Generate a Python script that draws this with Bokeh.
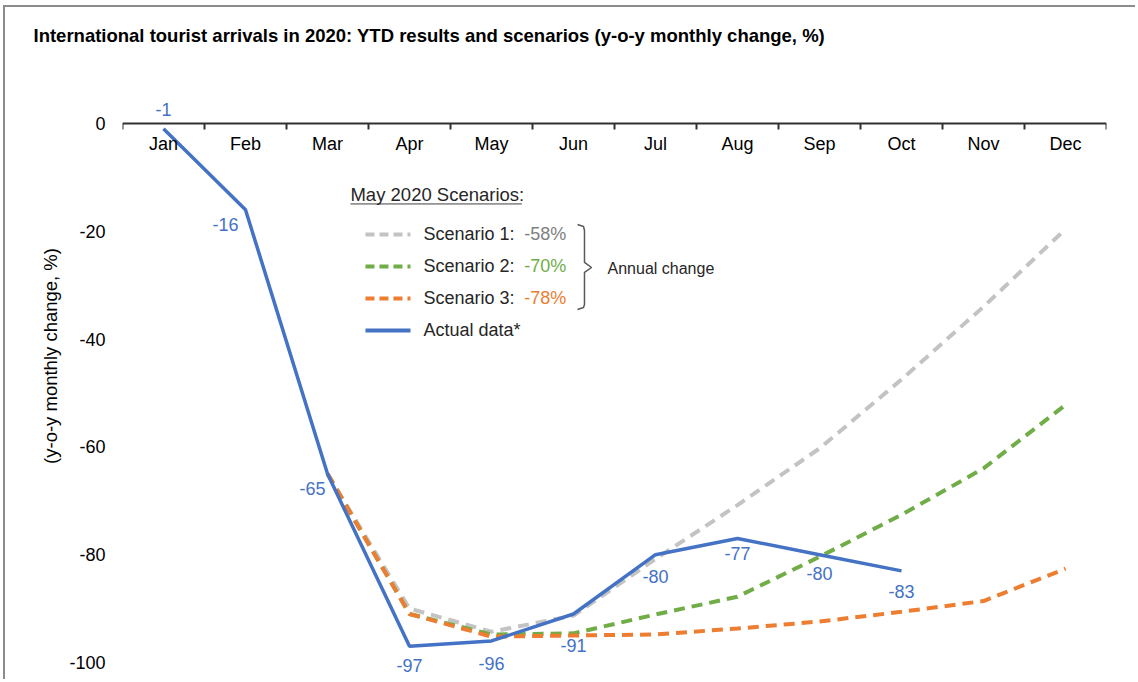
from bokeh.plotting import figure
from bokeh.models import (Range1d, FixedTicker, LinearAxis, Label, ColumnDataSource,
                          CustomJSTickFormatter)
from bokeh.core.properties import value
from bokeh.embed import file_html
from bokeh.resources import INLINE

# ---------------- data ----------------
months = ["Jan", "Feb", "Mar", "Apr", "May", "Jun", "Jul", "Aug", "Sep", "Oct", "Nov", "Dec"]
actual_months = months[:10]
actual = [-1, -16, -65, -97, -96, -91, -80, -77, -80, -83]
scen_months = months[2:]
scenario1 = [-65, -90, -94.3, -91.3, -80.8, -70.8, -60.3, -47.5, -34, -19.6]
scenario2 = [-65, -91, -94.8, -94.6, -91.1, -87.8, -80.4, -72.6, -64, -52.2]
scenario3 = [-65, -91, -95.2, -95, -94.8, -93.7, -92.4, -90.6, -88.6, -82.6]
scenario_names = ["Scenario 1:", "Scenario 2:", "Scenario 3:"]
annual_change = ["-58%", "-70%", "-78%"]
y_ticks = [0, -20, -40, -60, -80, -100]

# ---------------- styles ----------------
FONT = "Liberation Sans"
BLUE = "#4472c4"
GRAY = "#c3c3c3"
GREEN = "#70ad47"
ORANGE = "#ed7d31"
PCT_COLORS = ["#808080", GREEN, ORANGE]
LINE_COLORS = [GRAY, GREEN, ORANGE]
TXT = "#262626"
DASH = "11 7"

# label offsets (pixels) for the actual-data labels
lab_dx = [0, -20, -15, 0, 0, 0, 0, 0, 0, 0]
lab_dy = [-19, 15, 15, 19, 23, 32, 22, 15, 19, 21]


def pos(cats):
    # category -> centre of its slot on the linear month scale
    return [months.index(c) + 0.5 for c in cats]


p = figure(width=1132, height=674,
           x_range=Range1d(0, len(months)),
           y_range=Range1d(-103.53, 17.25),
           output_backend="svg", toolbar_location=None,
           x_axis_location=None, y_axis_location="left")
p.styles = {"margin-left": "3px", "margin-top": "5px",
            "border-top": "2px solid #8c8c8c", "border-left": "2px solid #8c8c8c"}
p.min_border_left = 117
p.min_border_right = 31
p.min_border_top = 23
p.min_border_bottom = 0
p.outline_line_color = None
p.xgrid.visible = False
p.ygrid.visible = False
p.background_fill_color = "white"
p.border_fill_color = "white"

# title
p.title.text = "International tourist arrivals in 2020: YTD results and scenarios (y-o-y monthly change, %)"
p.title.text_font = FONT
p.title.text_font_size = "18.5px"
p.title.text_font_style = "bold"
p.title.text_color = "black"
p.title.align = "left"
p.title.offset = -89
p.title.standoff = -30

# y axis
p.yaxis.ticker = FixedTicker(ticks=y_ticks)
p.yaxis.major_label_overrides = {t: str(t) for t in y_ticks}
p.yaxis.axis_line_color = None
p.yaxis.major_tick_line_color = None
p.yaxis.major_tick_out = 0
p.yaxis.major_tick_in = 0
p.yaxis.minor_tick_line_color = None
p.yaxis.major_label_standoff = 17
p.yaxis.major_label_text_font = FONT
p.yaxis.major_label_text_font_size = "18px"
p.yaxis.major_label_text_color = "black"
p.yaxis.axis_label = "(y-o-y monthly change, %)"
p.yaxis.axis_label_text_font = FONT
p.yaxis.axis_label_text_font_size = "18.5px"
p.yaxis.axis_label_text_font_style = "normal"
p.yaxis.axis_label_text_color = "black"
p.yaxis.axis_label_standoff = 5

# x axis at y = 0: boundary ticks + category labels
tick_axis = LinearAxis(ticker=FixedTicker(ticks=list(range(len(months) + 1))),
                       fixed_location=0, axis_line_color="#303030", axis_line_width=2,
                       major_tick_line_color="#303030", major_tick_line_width=2,
                       major_tick_out=6, major_tick_in=0, minor_tick_line_color=None,
                       formatter=CustomJSTickFormatter(code="return ''"),
                       major_label_text_font_size="1px")
p.add_layout(tick_axis, "below")
label_axis = LinearAxis(ticker=FixedTicker(ticks=pos(months)),
                        major_label_overrides={c: m for c, m in zip(pos(months), months)},
                        fixed_location=0, axis_line_color=None,
                        major_tick_line_color=None, major_tick_out=0, major_tick_in=0,
                        minor_tick_line_color=None,
                        major_label_standoff=11, major_label_text_font=FONT,
                        major_label_text_font_size="18px",
                        major_label_text_color="black")
p.add_layout(label_axis, "below")

# series
for vals, col in zip([scenario1, scenario2, scenario3], LINE_COLORS):
    p.line(pos(scen_months), vals, line_color=col, line_width=4, line_dash=DASH)
p.line(pos(actual_months), actual, line_color=BLUE, line_width=3.5)

src = ColumnDataSource(dict(x=pos(actual_months), y=actual,
                            t=[str(v) for v in actual], dx=lab_dx, dy=lab_dy))
p.text(x="x", y="y", text="t", x_offset="dx", y_offset="dy", source=src,
       text_font=value(FONT), text_font_size="18px", text_color=BLUE,
       text_align="center", text_baseline="middle")

# legend (manual)
p.add_layout(Label(x=2.78, y=-13.17, text="May 2020 Scenarios:",
                   text_font=FONT, text_font_size="18.5px", text_color=TXT,
                   text_baseline="middle"))
p.line([2.78, 4.87], [-14.93, -14.93], line_color="#404040", line_width=1)

row_y = [-20.59, -26.53, -32.47, -38.40]
for i, (name, pct) in enumerate(zip(scenario_names, annual_change)):
    p.line([2.963, 3.512], [row_y[i], row_y[i]],
           line_color=LINE_COLORS[i], line_width=4, line_dash="9 5")
    p.add_layout(Label(x=3.67, y=row_y[i], text=name,
                       text_font=FONT, text_font_size="18px", text_color=TXT,
                       text_baseline="middle"))
    p.add_layout(Label(x=4.90, y=row_y[i], text=pct,
                       text_font=FONT, text_font_size="18px", text_color=PCT_COLORS[i],
                       text_baseline="middle"))
p.line([2.963, 3.512], [row_y[3], row_y[3]], line_color=BLUE, line_width=4)
p.add_layout(Label(x=3.67, y=row_y[3], text="Actual data*",
                   text_font=FONT, text_font_size="18px", text_color=TXT,
                   text_baseline="middle"))

# curly brace
bx = [5.549, 5.622, 5.634, 5.634, 5.720, 5.634, 5.634, 5.622, 5.549]
by = [-18.74, -19.11, -19.85, -25.79, -26.72, -27.64, -33.58, -34.14, -34.51]
p.line(bx, by, line_color="#595959", line_width=1.5)
p.add_layout(Label(x=5.915, y=-26.9, text="Annual change",
                   text_font=FONT, text_font_size="16px", text_color=TXT,
                   text_baseline="middle"))

open("out.html", "w").write(file_html(p, INLINE))
